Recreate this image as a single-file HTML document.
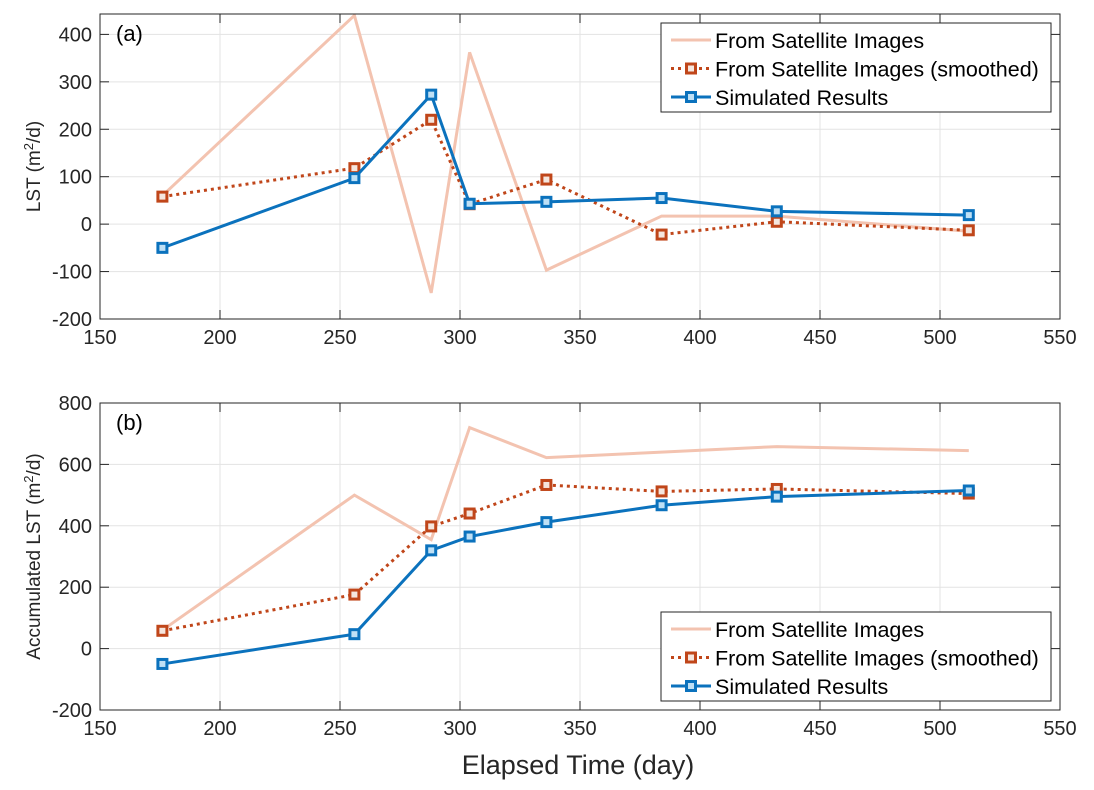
<!DOCTYPE html>
<html><head><meta charset="utf-8">
<style>
html,body{margin:0;padding:0;background:#fff;}
svg{display:block;font-family:"Liberation Sans",Arial,sans-serif;}
</style></head>
<body>
<svg id="chart" width="1094" height="790" viewBox="0 0 1094 790" xmlns="http://www.w3.org/2000/svg"></svg>
<script>
const days = [176, 256, 288, 304, 336, 384, 432, 512];
const lstSatellite = [60, 440, -145, 362, -97, 17, 17, -15];
const lstSmoothed = [58, 118, 220, 42, 94, -22, 5, -13];
const lstSimulated = [-50, 97, 273, 43, 47, 55, 27, 19];
const accSatellite = [60, 500, 355, 720, 622, 640, 658, 645];
const accSmoothed = [58, 176, 398, 440, 533, 512, 520, 505];
const accSimulated = [-50, 47, 320, 365, 412, 467, 495, 515];
const xTicks = [150, 200, 250, 300, 350, 400, 450, 500, 550];
const yTicksA = [-200, -100, 0, 100, 200, 300, 400];
const yTicksB = [-200, 0, 200, 400, 600, 800];
const legendLabels = ["From Satellite Images", "From Satellite Images (smoothed)", "Simulated Results"];

const NS = "http://www.w3.org/2000/svg";
const svg = document.getElementById("chart");
function mk(tag, attrs, parent) {
  const e = document.createElementNS(NS, tag);
  for (const k in attrs) e.setAttribute(k, attrs[k]);
  (parent || svg).appendChild(e);
  return e;
}
const L = 100, R = 1060;
const xs = v => L + (v - 150) / 400 * (R - L);
const COL_SAT = "#f3c3b0", COL_SM = "#c0461a", COL_SIM = "#0b72bd";

function panel(name, top, bottom, ymin, ymax, yTicks, sat, sm, sim, label, ylabel, legY) {
  const g = mk("g", {});
  
  
  const ys = v => bottom - (v - ymin) / (ymax - ymin) * (bottom - top);
  mk("rect", {x: L, y: top, width: R - L, height: bottom - top, fill: "#fff"}, g);
  xTicks.forEach(t => {
    const gl = mk("line", {x1: xs(t), x2: xs(t), y1: top, y2: bottom, stroke: "#e3e3e3", "stroke-width": 1}, g);
    
    
    mk("line", {x1: xs(t), x2: xs(t), y1: bottom, y2: bottom - 9, stroke: "#262626"}, g);
    mk("line", {x1: xs(t), x2: xs(t), y1: top, y2: top + 9, stroke: "#262626"}, g);
    const tx = mk("text", {x: xs(t), y: bottom + 25, "text-anchor": "middle", "font-size": 20, fill: "#262626"}, g);
    tx.textContent = t;
    
    
  });
  yTicks.forEach(t => {
    const gl = mk("line", {x1: L, x2: R, y1: ys(t), y2: ys(t), stroke: "#e3e3e3", "stroke-width": 1}, g);
    
    
    mk("line", {x1: L, x2: L + 9, y1: ys(t), y2: ys(t), stroke: "#262626"}, g);
    mk("line", {x1: R, x2: R - 9, y1: ys(t), y2: ys(t), stroke: "#262626"}, g);
    const tx = mk("text", {x: L - 8, y: ys(t) + 7, "text-anchor": "end", "font-size": 20, fill: "#262626"}, g);
    tx.textContent = t;
    
    
  });
  const clipId = "clip-" + name;
  const cp = mk("clipPath", {id: clipId}, g);
  mk("rect", {x: L, y: top, width: R - L, height: bottom - top}, cp);
  const pts = arr => arr.map((v, i) => xs(days[i]) + "," + ys(v)).join(" ");
  const s1 = mk("polyline", {points: pts(sat), fill: "none", stroke: COL_SAT, "stroke-width": 3, "clip-path": "url(#" + clipId + ")"}, g);
  
  
  const s2 = mk("polyline", {points: pts(sm), fill: "none", stroke: COL_SM, "stroke-width": 3, "stroke-dasharray": "3 4"}, g);
  
  
  sm.forEach((v, i) => {
    const m = mk("rect", {x: xs(days[i]) - 4.5, y: ys(v) - 4.5, width: 9, height: 9, fill: "#f5e6de", stroke: COL_SM, "stroke-width": 3}, g);
    
    
  });
  const s3 = mk("polyline", {points: pts(sim), fill: "none", stroke: COL_SIM, "stroke-width": 3}, g);
  
  
  sim.forEach((v, i) => {
    const m = mk("rect", {x: xs(days[i]) - 4.5, y: ys(v) - 4.5, width: 9, height: 9, fill: "#bfe0f5", stroke: COL_SIM, "stroke-width": 3}, g);
    
    
  });
  mk("rect", {x: L, y: top, width: R - L, height: bottom - top, fill: "none", stroke: "#262626", "stroke-width": 1}, g);
  const pl = mk("text", {x: L + 16, y: top + 27, "font-size": 22, fill: "#000"}, g);
  pl.textContent = label;
  
  
  const cy = (top + bottom) / 2;
  const yl = mk("text", {x: 0, y: 0, "font-size": 19, fill: "#262626", "text-anchor": "middle", transform: "translate(40," + cy + ") rotate(-90)"}, g);
  yl.innerHTML = ylabel + " (m<tspan dy='-7' font-size='13'>2</tspan><tspan dy='7'>/d)</tspan>";
  
  
  const lg = mk("g", {}, g);
  
  
  mk("rect", {x: 661, y: legY, width: 390, height: 89, fill: "#fff", stroke: "#262626", "stroke-width": 1}, lg);
  const cols = [COL_SAT, COL_SM, COL_SIM];
  legendLabels.forEach((lab, i) => {
    const ry = legY + 17 + i * 28.5;
    const e = mk("g", {}, lg);
    
    
    const ln = mk("line", {x1: 671, x2: 711, y1: ry, y2: ry, stroke: cols[i], "stroke-width": 3}, e);
    if (i === 1) ln.setAttribute("stroke-dasharray", "3 4");
    if (i > 0) mk("rect", {x: 686.5, y: ry - 4.5, width: 9, height: 9, fill: i === 1 ? "#f5e6de" : "#bfe0f5", stroke: cols[i], "stroke-width": 3}, e);
    const t = mk("text", {x: 715, y: ry + 8, "font-size": 21.5, fill: "#000"}, e);
    t.textContent = lab;
  });
}
panel("panel-a", 14, 319, -200, 443, yTicksA, lstSatellite, lstSmoothed, lstSimulated, "(a)", "LST", 23);
panel("panel-b", 403, 710, -200, 800, yTicksB, accSatellite, accSmoothed, accSimulated, "(b)", "Accumulated LST", 612);
const xt = mk("text", {x: 578, y: 774, "text-anchor": "middle", "font-size": 27, fill: "#262626"});
xt.textContent = "Elapsed Time (day)";


</script>
</body></html>
